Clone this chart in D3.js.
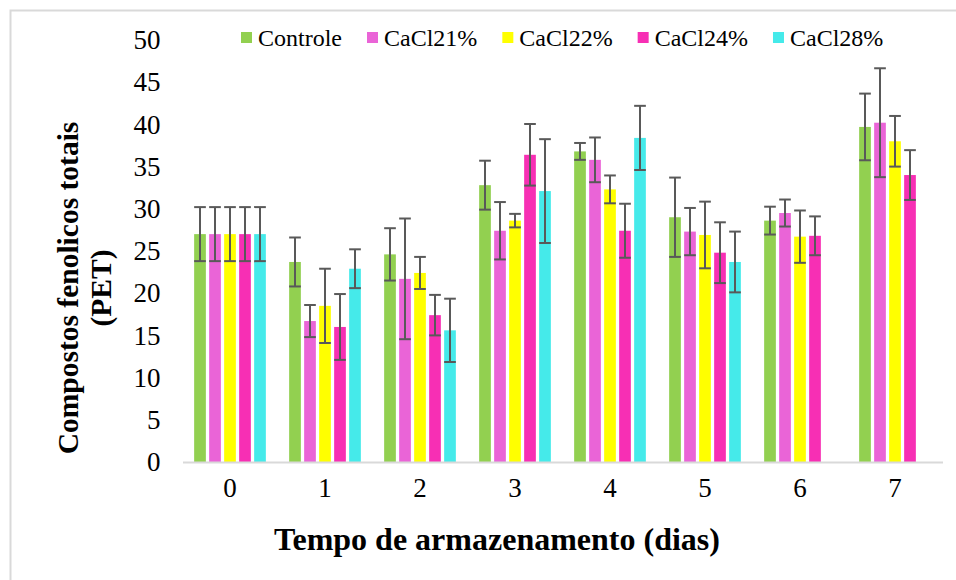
<!DOCTYPE html>
<html>
<head>
<meta charset="utf-8">
<script src="https://cdn.jsdelivr.net/npm/d3@7"></script>
<style>
  html, body { margin: 0; padding: 0; background: #fff; }
  svg { display: block; }
  svg text { font-family: "Liberation Serif", "Times New Roman", serif; fill: #000; }
</style>
</head>
<body>
<svg id="chart" width="956" height="580"></svg>
<script>
// Storage days (x categories)
const days = ["0", "1", "2", "3", "4", "5", "6", "7"];
const seriesNames = ["Controle", "CaCl21%", "CaCl22%", "CaCl24%", "CaCl28%"];
const seriesColors = ["#92D050", "#EA64D7", "#FFFF00", "#F72FB4", "#45EAEA"];

// Mean total phenolic compounds per treatment
const controle = [27.0, 23.7, 24.6, 32.8, 36.8, 29.0, 28.6, 39.7];
const cacl21   = [27.0, 16.7, 21.7, 27.4, 35.8, 27.3, 29.5, 40.2];
const cacl22   = [27.0, 18.5, 22.4, 28.6, 32.3, 26.9, 26.7, 38.0];
const cacl24   = [27.0, 16.0, 17.4, 36.4, 27.4, 24.8, 26.8, 34.0];
const cacl28   = [27.0, 22.9, 15.6, 32.1, 38.4, 23.7, null, null];

// Standard deviation (error bars)
const controleErr = [3.2, 2.9, 3.1, 2.9, 1.0, 4.7, 1.65, 3.95];
const cacl21Err   = [3.2, 1.9, 7.15, 3.4, 2.65, 2.8, 1.6, 6.45];
const cacl22Err   = [3.2, 4.4, 1.9, 0.8, 1.65, 3.95, 3.1, 3.0];
const cacl24Err   = [3.2, 3.9, 2.4, 3.65, 3.2, 3.6, 2.3, 2.95];
const cacl28Err   = [3.2, 2.3, 3.75, 6.15, 3.8, 3.6, null, null];

const yTicks = [0, 5, 10, 15, 20, 25, 30, 35, 40, 45, 50];

const values = [controle, cacl21, cacl22, cacl24, cacl28];
const errors = [controleErr, cacl21Err, cacl22Err, cacl24Err, cacl28Err];

const rows = [];
days.forEach((d, i) => {
  seriesNames.forEach((s, j) => {
    if (values[j][i] != null) {
      rows.push({ day: d, series: s, idx: j, value: values[j][i], err: errors[j][i] });
    }
  });
});

const serif = "'Liberation Serif', 'Times New Roman', serif";
const svg = d3.select("#chart");

// outer frame
svg.append("rect")
  .attr("x", 10.5).attr("y", 10.5)
  .attr("width", 970).attr("height", 600)
  .attr("fill", "none").attr("stroke", "#d9d9d9").attr("stroke-width", 2);

const plot = { left: 182.5, right: 942.5, top: 40, bottom: 462 };

const x0 = d3.scaleBand().domain(days).range([plot.left, plot.right])
  .paddingInner(20 / 95).paddingOuter(10 / 95);
const x1 = d3.scaleBand().domain(seriesNames).range([0, x0.bandwidth()])
  .paddingInner(0.22).paddingOuter(0.11);
const y = d3.scaleLinear().domain([0, 50]).range([plot.bottom, plot.top]);
const color = d3.scaleOrdinal().domain(seriesNames).range(seriesColors);

// y axis (labels only)
const yAxis = svg.append("g")
  .attr("transform", `translate(${plot.left},0)`)
  .call(d3.axisLeft(y).tickValues(yTicks).tickSize(0).tickPadding(22));
yAxis.attr("font-family", null).attr("font-size", null);
yAxis.select(".domain").remove();
yAxis.selectAll("text").style("font-family", serif).style("font-size", "27px");

// bars
const bars = svg.append("g");
bars.selectAll("rect").data(rows).join("rect")
  .attr("x", d => x0(d.day) + x1(d.series))
  .attr("y", d => y(d.value))
  .attr("width", x1.bandwidth())
  .attr("height", d => y(0) - y(d.value))
  .attr("fill", d => color(d.series));

// error bars
const eb = svg.append("g").attr("stroke", "#595959").attr("stroke-width", 2);
rows.forEach(d => {
  const cx = x0(d.day) + x1(d.series) + x1.bandwidth() / 2;
  const hw = x1.bandwidth() / 2;
  const top = y(d.value + d.err), bot = y(d.value - d.err);
  eb.append("line").attr("x1", cx).attr("x2", cx).attr("y1", top).attr("y2", bot);
  eb.append("line").attr("x1", cx - hw).attr("x2", cx + hw).attr("y1", top).attr("y2", top);
  eb.append("line").attr("x1", cx - hw).attr("x2", cx + hw).attr("y1", bot).attr("y2", bot);
});

// x axis
const xAxis = svg.append("g")
  .attr("transform", `translate(0,${plot.bottom})`)
  .call(d3.axisBottom(x0).tickSize(0).tickPadding(16).tickSizeOuter(0));
xAxis.attr("font-family", null).attr("font-size", null);
xAxis.select(".domain").attr("stroke", "#d9d9d9").attr("stroke-width", 2);
xAxis.selectAll("text").style("font-family", serif).style("font-size", "27px");

// axis titles
svg.append("text")
  .attr("x", 497).attr("y", 550)
  .attr("text-anchor", "middle")
  .style("font-family", serif).style("font-size", "32px").style("font-weight", "bold")
  .text("Tempo de armazenamento (dias)");

const yTitle = svg.append("text")
  .attr("transform", `translate(78,288) rotate(-90)`)
  .attr("text-anchor", "middle")
  .style("font-family", serif).style("font-size", "29.5px").style("font-weight", "bold");
yTitle.append("tspan").attr("x", 0).attr("dy", 0).text("Compostos fenolicos totais");
yTitle.append("tspan").attr("x", 0).attr("dy", 33).text("(PET)");

// legend
const legend = svg.append("g").attr("transform", "translate(241,38)");
let lx = 0;
seriesNames.forEach(s => {
  const g = legend.append("g").attr("transform", `translate(${lx},0)`);
  g.append("rect").attr("x", 0).attr("y", -6).attr("width", 11).attr("height", 11)
    .attr("fill", color(s));
  const t = g.append("text").attr("x", 17).attr("y", 8)
    .style("font-family", serif).style("font-size", "24px").text(s);
  lx += 17 + t.node().getComputedTextLength() + 25;
});
</script>
</body>
</html>
